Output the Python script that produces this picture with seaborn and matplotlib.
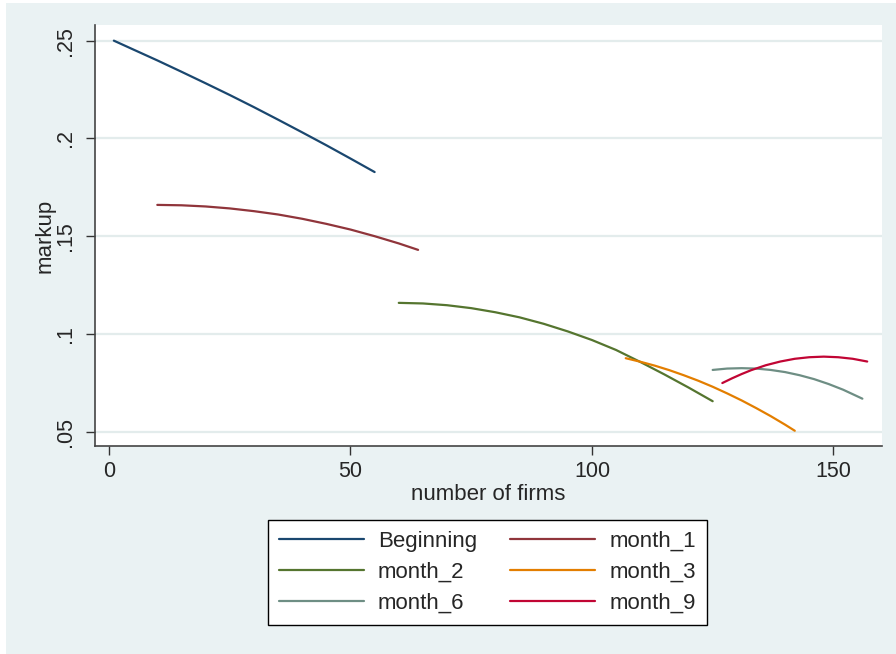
import numpy as np
import pandas as pd
import matplotlib
matplotlib.use("Agg")
import matplotlib.pyplot as plt
from matplotlib.patches import Rectangle
import seaborn as sns

# Markup against number of firms, by period
beginning_x = [1, 5, 10, 15, 20, 25, 30, 35, 40, 45, 50, 55]
beginning_y = [0.2500, 0.2455, 0.2399, 0.2341, 0.2282, 0.2222, 0.2160, 0.2096,
               0.2031, 0.1965, 0.1897, 0.1828]

month1_x = [10, 15, 20, 25, 30, 35, 40, 45, 50, 55, 60, 64]
month1_y = [0.1660, 0.1658, 0.1652, 0.1642, 0.1628, 0.1611, 0.1589, 0.1563,
            0.1534, 0.1500, 0.1463, 0.1430]

month2_x = [60, 65, 70, 75, 80, 85, 90, 95, 100, 105, 110, 115, 120, 125]
month2_y = [0.1159, 0.1156, 0.1147, 0.1132, 0.1111, 0.1085, 0.1052, 0.1013,
            0.0969, 0.0918, 0.0857, 0.0793, 0.0726, 0.0656]

month3_x = [107, 110, 113, 116, 119, 122, 125, 128, 131, 134, 137, 140, 142]
month3_y = [0.0876, 0.0858, 0.0838, 0.0815, 0.0789, 0.0761, 0.0730, 0.0696,
            0.0660, 0.0621, 0.0580, 0.0536, 0.0505]

month6_x = [125, 128, 131, 134, 137, 140, 143, 146, 149, 152, 156]
month6_y = [0.0816, 0.0823, 0.0825, 0.0823, 0.0816, 0.0805, 0.0789, 0.0769,
            0.0744, 0.0715, 0.0669]

month9_x = [127, 129, 131, 133, 136, 139, 142, 145, 148, 151, 154, 157]
month9_y = [0.0749, 0.0773, 0.0795, 0.0815, 0.0840, 0.0859, 0.0873, 0.0881,
            0.0884, 0.0881, 0.0873, 0.0859]

series_names = ["Beginning", "month_1", "month_2", "month_3", "month_6", "month_9"]
series_x = [beginning_x, month1_x, month2_x, month3_x, month6_x, month9_x]
series_y = [beginning_y, month1_y, month2_y, month3_y, month6_y, month9_y]
series_colors = ["#1a476f", "#90353b", "#55752f", "#e37e00", "#6e8e84", "#c10534"]

x_ticks = [0, 50, 100, 150]
x_tick_labels = ["0", "50", "100", "150"]
y_ticks = [0.05, 0.10, 0.15, 0.20, 0.25]
y_tick_labels = [".05", ".1", ".15", ".2", ".25"]

frames = []
for name, xs, ys in zip(series_names, series_x, series_y):
    frames.append(pd.DataFrame({"firms": xs, "markup": ys, "period": name}))
df = pd.concat(frames, ignore_index=True)

sns.set_style("white")
plt.rcParams["font.family"] = ["Liberation Sans", "DejaVu Sans"]

W, H = 896, 654
fig = plt.figure(figsize=(W / 100, H / 100), dpi=100, facecolor="white")
fig.patches.append(Rectangle((6 / W, 0), 1 - 6 / W, 1 - 3 / H,
                             transform=fig.transFigure, facecolor="#eaf2f3",
                             edgecolor="none", zorder=-10))

ax = fig.add_axes([95 / W, 1 - 446 / H, (881.7 - 95) / W, (446 - 25) / H])
ax.set_facecolor("white")

sns.lineplot(data=df, x="firms", y="markup", hue="period",
             hue_order=series_names, palette=series_colors,
             linewidth=1.6, ax=ax, legend=True, estimator=None)
for line in ax.get_lines():
    line.set_solid_joinstyle("round")

ax.set_xlim(-2.9, 160)
ax.set_ylim(0.0427, 0.258)

ax.set_yticks(y_ticks)
ax.set_yticklabels(y_tick_labels, rotation=90, va="center", fontsize=15.5)
ax.set_xticks(x_ticks)
ax.set_xticklabels(x_tick_labels, fontsize=15.5)
ax.tick_params(axis="both", direction="out", length=6.5, width=1.0,
               color="#333333", left=True, bottom=True)
ax.tick_params(axis="y", pad=7)
ax.tick_params(axis="x", pad=4)

ax.grid(axis="y", color="#e3ecec", linewidth=1.6)
ax.grid(axis="x", visible=False)
ax.set_axisbelow(True)

for side in ["top", "right"]:
    ax.spines[side].set_visible(False)
for side in ["left", "bottom"]:
    ax.spines[side].set_color("#444444")
    ax.spines[side].set_linewidth(1.2)

ax.set_xlabel("number of firms", fontsize=16, labelpad=2)
ax.set_ylabel("markup", fontsize=16, labelpad=0)

handles, labels = ax.get_legend_handles_labels()
ax.get_legend().remove()
for h in handles:
    h.set_linewidth(1.6)
# two columns filled row by row
order = [0, 2, 4, 1, 3, 5]
handles = [handles[i] for i in order]
labels = [labels[i] for i in order]
leg = fig.legend(handles, labels, ncol=2, loc="upper left",
                 bbox_to_anchor=(268 / W, 1 - 520 / H),
                 fontsize=16, frameon=True, fancybox=False,
                 edgecolor="black", facecolor="white", framealpha=1,
                 handlelength=3.8, handletextpad=0.65, columnspacing=1.5,
                 labelspacing=0.45, borderpad=0.5, borderaxespad=0)
leg.get_frame().set_linewidth(1.0)

fig.savefig("out.png", dpi=100, facecolor=fig.get_facecolor())
